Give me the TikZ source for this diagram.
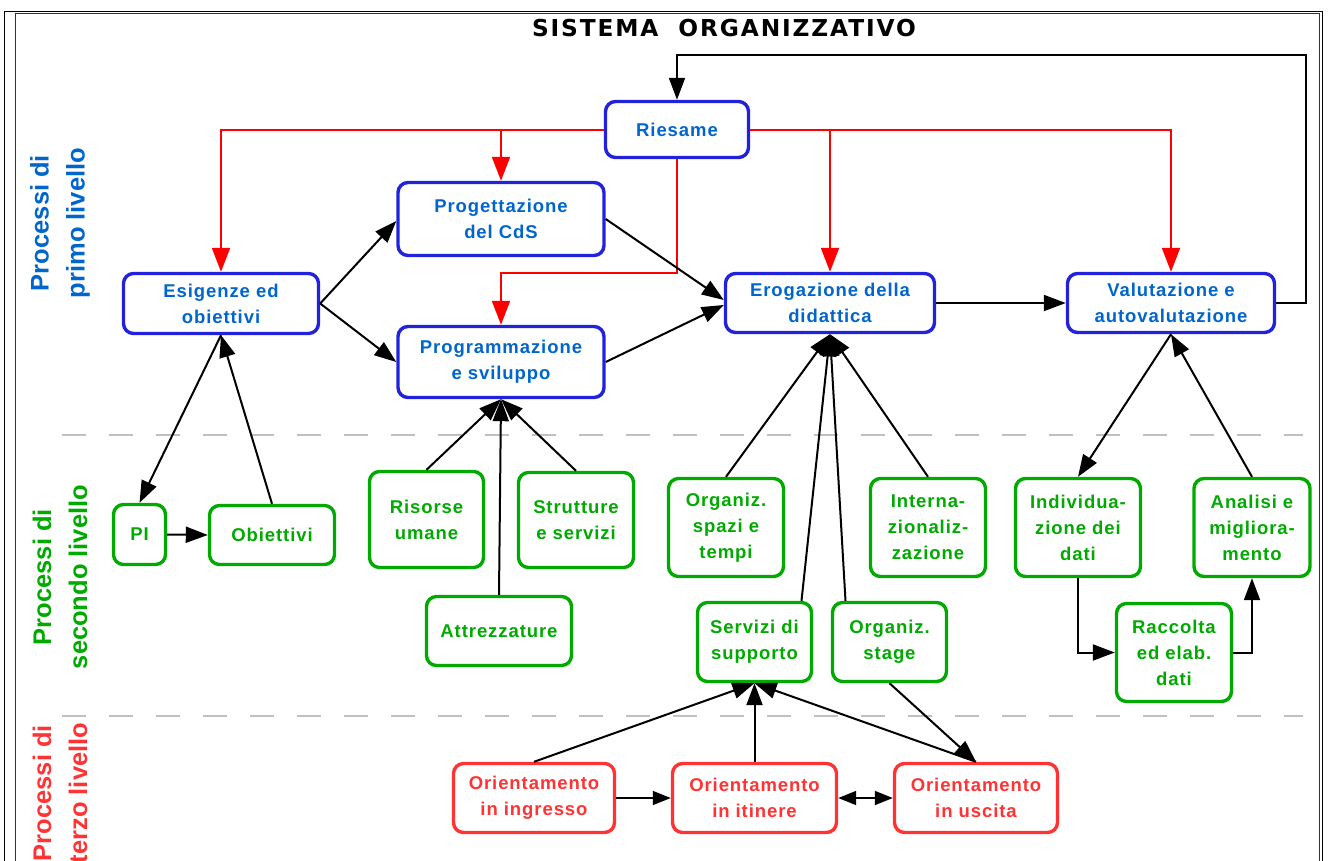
\documentclass[tikz,border=0pt]{standalone}
\usepackage{fontspec}
\setmainfont{Liberation Sans}
\newfontfamily\boxfont{Liberation Sans}[LetterSpace=5]
\newfontfamily\titlefont{DejaVu Sans}[LetterSpace=8]
\usetikzlibrary{arrows.meta,calc}

\definecolor{boxblue}{RGB}{34,34,221}
\definecolor{txtblue}{RGB}{0,102,204}
\definecolor{lvgreen}{RGB}{0,170,0}
\definecolor{lvred}{RGB}{255,51,51}
\definecolor{arrowred}{RGB}{255,0,0}
\definecolor{sepgray}{RGB}{192,192,192}

\tikzset{
  box/.style={rectangle, rounded corners=10pt, line width=3.4pt, fill=white,
    align=center, inner sep=0pt,
    font=\boxfont\bfseries\fontsize{18.5}{26}\selectfont},
  bluebox/.style={box, draw=boxblue, text=txtblue},
  greenbox/.style={box, draw=lvgreen, text=lvgreen},
  redbox/.style={box, draw=lvred, text=lvred},
  wh/.style 2 args={minimum width=#1pt, minimum height=#2pt},
  conn/.style={line width=2pt, -{Triangle[length=22pt,width=16pt]}},
  biconn/.style={line width=1.6pt, {Triangle[length=18pt,width=14pt]}-{Triangle[length=18pt,width=14pt]}},
  rconn/.style={line width=2pt, draw=arrowred, -{Triangle[length=24pt,width=18pt]}},
  sep/.style={draw=sepgray, line width=2pt, dash pattern=on 24pt off 23pt},
  sidelabel/.style={rotate=90, align=center, inner sep=0pt,
    font=\bfseries\fontsize{25.5}{36}\selectfont},
}

\begin{document}
\begin{tikzpicture}[x=1pt, y=-1pt]
\useasboundingbox (0,0) rectangle (1331,860);

% page frame
\draw[black, line width=1pt] (4.5,11) rectangle (1322,880);
\draw[black!80, line width=1pt] (15.5,880) -- (15.5,13.5) -- (1319.5,13.5) -- (1319.5,880);

% title
\node[font=\titlefont\bfseries\fontsize{23.3}{23.3}\selectfont, inner sep=0pt]
  (title) at (724,28.5) {SISTEMA\ \ ORGANIZZATIVO};

% level separators
\draw[sep] (62,435) -- (1303,435);
\draw[sep] (62,716) -- (1303,716);

% level labels
\node[sidelabel, text=txtblue] (lab1) at (60,223) {Processi di\\primo livello};
\node[sidelabel, text=lvgreen] (lab2) at (60,577) {Processi di\\secondo livello};
\node[sidelabel, text=lvred]   (lab3) at (60,793) {Processi di\\terzo livello};

% first level
\node[bluebox, wh={143}{56}] (ries)  at (677,129.5) {Riesame};
\node[bluebox, wh={206}{73}] (prog)  at (501,219)   {Progettazione\\del CdS};
\node[bluebox, wh={195}{60}] (esig)  at (221,303.5) {Esigenze ed\\obiettivi};
\node[bluebox, wh={206}{71}] (progr) at (501,362)   {Programmazione\\e sviluppo};
\node[bluebox, wh={209}{59}] (erog)  at (830,303)   {Erogazione della\\didattica};
\node[bluebox, wh={207}{59}] (valu)  at (1171,303)  {Valutazione e\\autovalutazione};

% second level
\node[greenbox, wh={52}{60}]  (pi)   at (139.5,534.5) {PI};
\node[greenbox, wh={125}{59}] (obi)  at (272,535)     {Obiettivi};
\node[greenbox, wh={114}{96}] (riso) at (426.5,519.5) {Risorse\\umane};
\node[greenbox, wh={115}{95}] (stru) at (576,520)     {Strutture\\e servizi};
\node[greenbox, wh={145}{69}] (attr) at (499,631)     {Attrezzature};
\node[greenbox, wh={115}{98}] (orgs) at (726,527.5)   {Organiz.\\spazi e\\tempi};
\node[greenbox, wh={115}{98}] (inte) at (928,527.5)   {Interna-\\zionaliz-\\zazione};
\node[greenbox, wh={125}{98}] (indi) at (1078,527.5)  {Individua-\\zione dei\\dati};
\node[greenbox, wh={116}{98}] (anal) at (1252,527.5)  {Analisi e\\migliora-\\mento};
\node[greenbox, wh={114}{79}] (serv) at (754.5,642)   {Servizi di\\supporto};
\node[greenbox, wh={114}{79}] (stag) at (889.5,642)   {Organiz.\\stage};
\node[greenbox, wh={115}{98}] (racc) at (1174,652.5)  {Raccolta\\ed elab.\\dati};

% third level
\node[redbox, wh={161}{69}] (oing) at (534,798)   {Orientamento\\in ingresso};
\node[redbox, wh={164}{69}] (oiti) at (754.5,798) {Orientamento\\in itinere};
\node[redbox, wh={163}{69}] (ousc) at (976,798)   {Orientamento\\in uscita};

% review outputs (red)
\draw[rconn] (ries.west) -| (esig.north);
\draw[rconn] (prog.north |- ries.west) -- (prog.north);
\draw[rconn] (ries.east) -| (valu.north);
\draw[rconn] (erog.north |- ries.east) -- (erog.north);
\draw[rconn] (ries.south) |- ([yshift=52pt]progr.north) -- (progr.north);

% feedback to review
\draw[conn] (valu.east) -- ++(29.5,0) |- ([yshift=44.5pt]ries.north) -- (ries.north);

% first level flow
\draw[conn] (esig.east) -- ([yshift=-2pt]prog.west);
\draw[conn] (esig.east) -- (progr.west);
\draw[conn] (prog.east) -- ([yshift=3pt]erog.west);
\draw[conn] (progr.east) -- ([yshift=-2pt]erog.west);
\draw[conn] (erog.east) -- (valu.west);

% second level to first level
\draw[conn] (esig.south) -- (pi.north);
\draw[conn] (obi.north) -- (esig.south);
\draw[conn] (pi.east) -- (obi.west);
\draw[conn] (riso.north) -- (progr.south);
\draw[conn] (attr.north) -- (progr.south);
\draw[conn] (stru.north) -- (progr.south);
\draw[conn] (orgs.north) -- (erog.south);
\draw[conn] (inte.north) -- (erog.south);
\draw[conn] ([xshift=47pt]serv.north) -- (erog.south);
\draw[conn] ([xshift=-44pt]stag.north) -- (erog.south);
\draw[conn] (valu.south) -- (indi.north);
\draw[conn] (anal.north) -- (valu.south);
\draw[conn] (indi.south) |- (racc.west);
\draw[conn] (racc.east) -| (anal.south);

% third level
\draw[conn] (oing.north) -- (serv.south);
\draw[conn] (oiti.north) -- (serv.south);
\draw[conn] (ousc.north) -- (serv.south);
\draw[conn] (stag.south) -- (ousc.north);
\draw[line width=1.4pt, -{Triangle[length=18pt,width=14pt]}] (oing.east) -- (oiti.west);
\draw[biconn] (oiti.east) -- (ousc.west);
\end{tikzpicture}
\end{document}
